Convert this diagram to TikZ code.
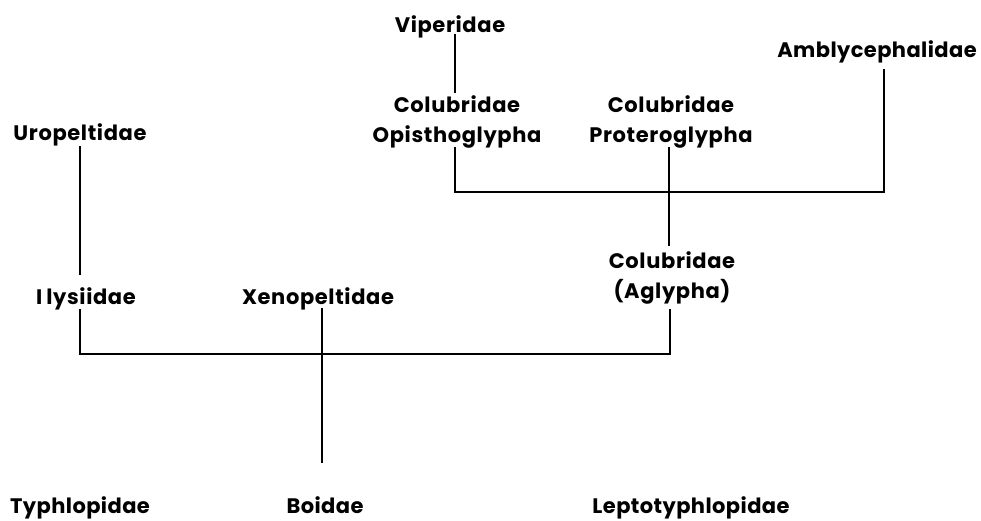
\documentclass[tikz,border=0pt]{standalone}
\usepackage{fontspec}
\setmainfont{Poppins}[LetterSpace=3]
\newfontfamily\tightfont{Poppins}[LetterSpace=2]
\begin{document}
\begin{tikzpicture}[x=1pt,y=-1pt,
  lbl/.style={font=\fontsize{21}{30}\selectfont\bfseries, align=center, inner sep=0pt},
  one/.style={lbl, anchor=base},
  lowlbl/.style={font=\tightfont\fontsize{21}{23}\selectfont\bfseries, inner sep=0pt, anchor=base},
  ln/.style={line width=1.3pt, line cap=butt}]
\useasboundingbox (0,0) rectangle (981,520);
\node[one] (vip) at (450,32) {Viperidae};
\node[lbl] (opi) at (457,122) {Colubridae\\Opisthoglypha};
\node[lbl] (pro) at (671,122) {Colubridae\\Proteroglypha};
\node[one, font=\tightfont\fontsize{21}{30}\selectfont\bfseries] (amb) at (877,57) {Amblycephalidae};
\node[one] (uro) at (80,140) {Uropeltidae};
\node[one] (ily) at (86,304) {I\kern4pt lysiidae};
\node[one] (xen) at (318,304) {Xenopeltidae};
\node[lbl] (agl) at (672,278) {Colubridae\\(Aglypha)};
\node[lowlbl] (typ) at (80,513) {Typhlopidae};
\node[lowlbl] (boi) at (325,513) {Boidae};
\node[lowlbl] (lep) at (691,513) {Leptotyphlopidae};
\coordinate (j1) at (455,192);
\coordinate (j2) at (884,192);
\coordinate (j3) at (80,354);
\coordinate (j4) at (670,354);
\draw[ln] (455,34) -- (455,93);
\draw[ln] (455,147) -- (j1) -- (j2) -- (884,69);
\draw[ln] (669,147) -- (669,246);
\draw[ln] (80,146) -- (80,275);
\draw[ln] (80,309) -- (j3) -- (j4) -- (670,309);
\draw[ln] (322,308) -- (322,463);
\end{tikzpicture}
\end{document}
